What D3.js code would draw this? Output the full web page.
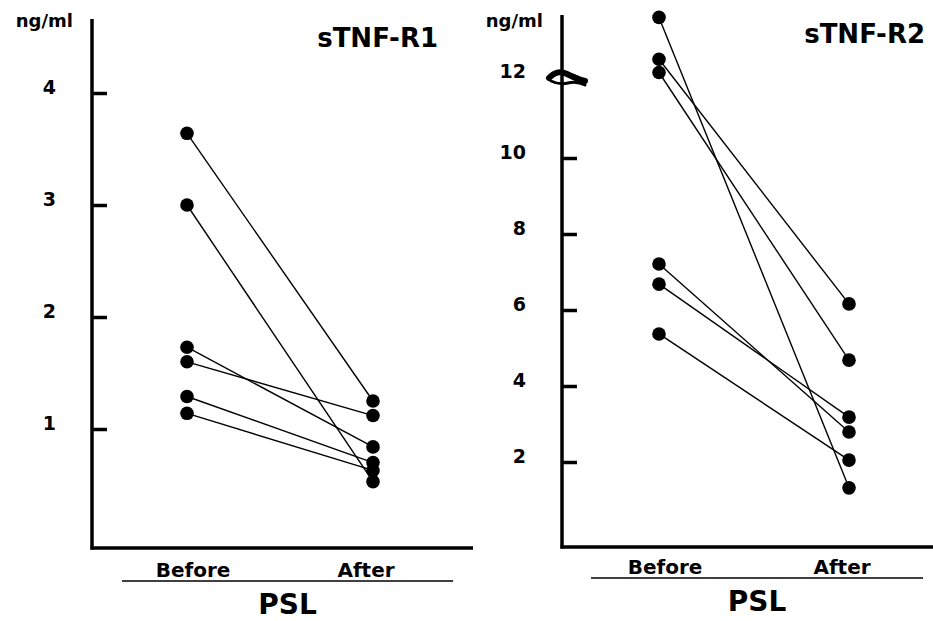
<!DOCTYPE html>
<html>
<head>
<meta charset="utf-8">
<script src="https://cdn.jsdelivr.net/npm/d3@7"></script>
<style>
  body { margin: 0; background: #fff; }
  text { font-family: "DejaVu Sans", sans-serif; font-weight: bold; fill: #000; }
</style>
</head>
<body>
<script>
// data
var groups = ["Before", "After"];

// sTNF-R1 (ng/ml), pairs patient by patient
var r1Before = [3.64, 3.0, 1.73, 1.60, 1.29, 1.14];
var r1After  = [1.25, 0.53, 0.84, 1.12, 0.70, 0.63];
var r1Ticks  = [1, 2, 3, 4];

// sTNF-R2 (ng/ml), the top three sit above the axis break
var r2Before = [13.7, 12.6, 12.25, 7.21, 6.68, 5.37];
var r2After  = [1.32, 6.16, 4.68, 2.79, 3.18, 2.05];
var r2Ticks  = [2, 4, 6, 8, 10];
var r2BreakValue = 12;

var svgWidth = 933;
var svgHeight = 621;

var svg = d3.select("body")
  .append("svg")
  .attr("width", svgWidth)
  .attr("height", svgHeight);

function drawPanel(p) {
  var g = svg.append("g");

  var y = d3.scaleLinear()
    .domain(p.yDomain)
    .range(p.yRange);

  var x = d3.scalePoint()
    .domain(groups)
    .range(p.xRange);

  // y axis: ticks point inward, labels sit on the tick line
  var yAxis = d3.axisLeft(y)
    .tickValues(p.ticks)
    .tickSizeInner(-15)
    .tickSizeOuter(0)
    .tickPadding(36)
    .tickFormat(d3.format("d"));

  var axisG = g.append("g")
    .attr("transform", `translate(${p.axisX},0)`)
    .call(yAxis);
  axisG.select(".domain").remove();
  axisG.selectAll(".tick line")
    .attr("stroke", "#000")
    .attr("stroke-width", 3.5);
  axisG.selectAll(".tick text")
    .attr("dy", 0)
    .style("font-size", "19px")
    .style("font-family", "DejaVu Sans, sans-serif")
    .style("font-weight", "bold");

  // axis lines
  g.append("line")
    .attr("x1", p.axisX).attr("x2", p.axisX)
    .attr("y1", p.axisTop).attr("y2", p.axisBottom + 1.5)
    .attr("stroke", "#000").attr("stroke-width", 3.5);
  g.append("line")
    .attr("x1", p.axisX - 1.5).attr("x2", p.axisRight)
    .attr("y1", p.axisBottom).attr("y2", p.axisBottom)
    .attr("stroke", "#000").attr("stroke-width", 3.5);

  // unit and title
  g.append("text")
    .attr("x", p.axisX - 19)
    .attr("y", p.unitY)
    .attr("text-anchor", "end")
    .style("font-size", "18px")
    .text("ng/ml");

  g.append("text")
    .attr("x", p.titleX)
    .attr("y", p.titleY)
    .attr("text-anchor", "end")
    .style("font-size", "26px")
    .text(p.title);

  // paired lines
  var pairs = p.before.map(function(b, i) { return { before: b, after: p.after[i] }; });

  g.selectAll(".pair")
    .data(pairs)
    .enter()
    .append("line")
    .attr("class", "pair")
    .attr("x1", x("Before"))
    .attr("y1", d => y(d.before))
    .attr("x2", x("After"))
    .attr("y2", d => y(d.after))
    .attr("stroke", "#000")
    .attr("stroke-width", 1.4);

  var dots = [];
  pairs.forEach(function(d) {
    dots.push({ group: "Before", value: d.before });
    dots.push({ group: "After", value: d.after });
  });

  g.selectAll(".dot")
    .data(dots)
    .enter()
    .append("circle")
    .attr("class", "dot")
    .attr("cx", d => x(d.group))
    .attr("cy", d => y(d.value))
    .attr("r", 6.8)
    .attr("fill", "#000");

  // group labels, underline, PSL
  g.selectAll(".grp")
    .data(groups)
    .enter()
    .append("text")
    .attr("class", "grp")
    .attr("x", (d, i) => x(d) + (i === 0 ? 6 : -7))
    .attr("y", p.groupY)
    .attr("text-anchor", "middle")
    .style("font-size", "20px")
    .text(d => d);

  g.append("line")
    .attr("x1", p.underline[0]).attr("x2", p.underline[1])
    .attr("y1", p.groupY + 4).attr("y2", p.groupY + 4)
    .attr("stroke", "#000").attr("stroke-width", 1.5);

  g.append("text")
    .attr("x", (p.underline[0] + p.underline[1]) / 2)
    .attr("y", p.groupY + 37)
    .attr("text-anchor", "middle")
    .style("font-size", "28px")
    .text("PSL");

  return { g: g, y: y };
}

drawPanel({
  title: "sTNF-R1",
  before: r1Before, after: r1After, ticks: r1Ticks,
  yDomain: [0, 4], yRange: [541, 93],
  xRange: [187, 373],
  axisX: 92, axisTop: 19, axisBottom: 548, axisRight: 473,
  unitY: 27, titleX: 438, titleY: 47,
  groupY: 577, underline: [122, 453]
});

var right = drawPanel({
  title: "sTNF-R2",
  before: r2Before, after: r2After, ticks: r2Ticks,
  yDomain: [0, 10], yRange: [538, 158],
  xRange: [659, 849],
  axisX: 562, axisTop: 15, axisBottom: 547, axisRight: 933,
  unitY: 27, titleX: 925, titleY: 43,
  groupY: 574, underline: [591, 923]
});

// "12" label and the axis break on the right panel
var yb = right.y(r2BreakValue) - 5;
right.g.append("text")
  .attr("x", 526)
  .attr("y", yb + 1)
  .attr("text-anchor", "end")
  .style("font-size", "19px")
  .text(r2BreakValue);

// wavy break mark: a thick upper stroke and a thinner lower one
right.g.append("path")
  .attr("d", `M549,${yb + 1} Q557,${yb - 8} 567,${yb - 3} T585,${yb + 4}`)
  .attr("fill", "none")
  .attr("stroke", "#000")
  .attr("stroke-width", 6)
  .attr("stroke-linecap", "round");
right.g.append("path")
  .attr("d", `M551,${yb + 4} Q559,${yb + 8} 568,${yb + 6} T585,${yb + 8}`)
  .attr("fill", "none")
  .attr("stroke", "#000")
  .attr("stroke-width", 3)
  .attr("stroke-linecap", "round");
</script>
</body>
</html>
